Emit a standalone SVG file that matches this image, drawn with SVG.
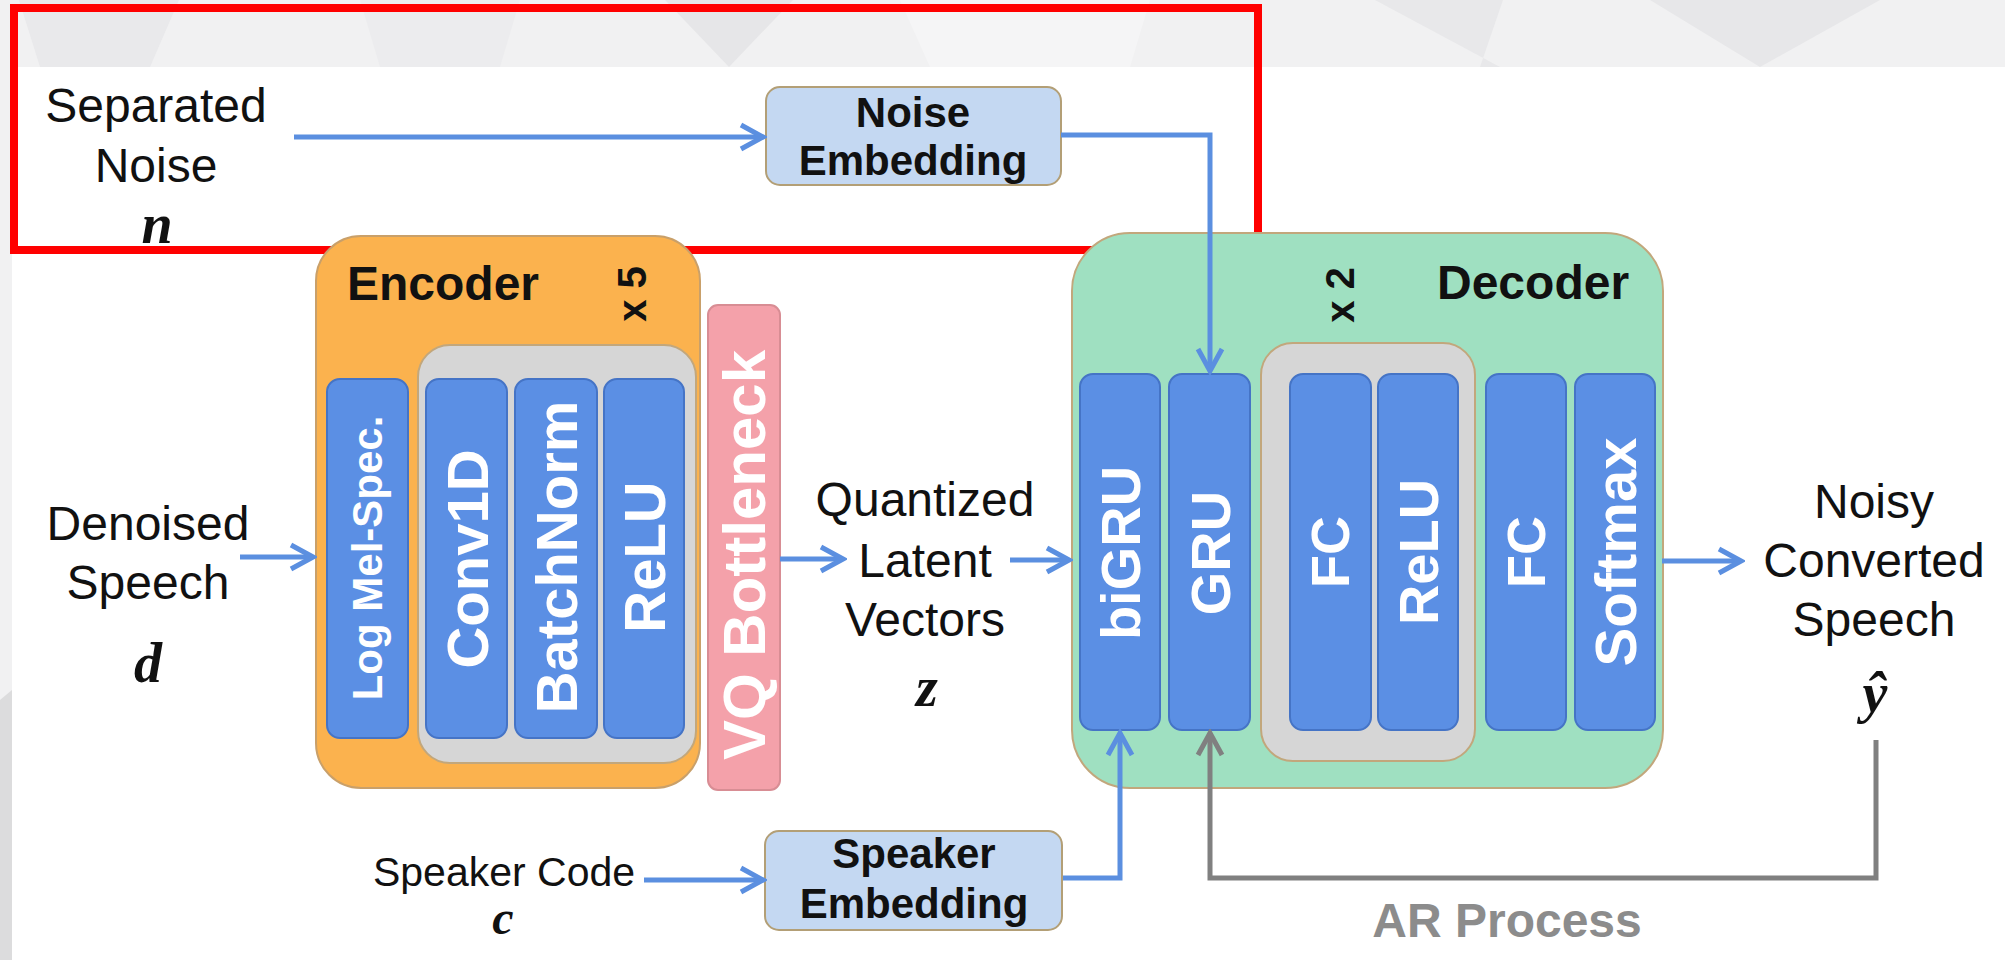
<svg xmlns="http://www.w3.org/2000/svg" width="2005" height="960" viewBox="0 0 2005 960">
<defs>
<style>
.lbl{font-family:"Liberation Sans",Arial,sans-serif;font-size:48px;fill:#111;text-anchor:middle}
.math{font-family:"Liberation Serif","DejaVu Serif",serif;font-weight:bold;font-style:italic;font-size:56px;fill:#111;text-anchor:middle}
.blk{fill:#5b8fe4;stroke:#4574c6;stroke-width:2}
.blkt{font-family:"Liberation Sans",Arial,sans-serif;font-weight:bold;fill:#fff;text-anchor:middle}
.emb{fill:#c4d8f2;stroke:#b39f76;stroke-width:2}
.embt{font-family:"Liberation Sans",Arial,sans-serif;font-weight:bold;font-size:42px;fill:#111;text-anchor:middle}
.ttl{font-family:"Liberation Sans",Arial,sans-serif;font-weight:bold;font-size:48px;fill:#111}
.rep{font-family:"Liberation Sans",Arial,sans-serif;font-weight:bold;font-size:40px;fill:#111;text-anchor:middle}
.conn{fill:none;stroke:#5b8fe0;stroke-width:5}
.gconn{fill:none;stroke:#808080;stroke-width:5}
.inner{fill:#d6d6d6;stroke:#c2a77c;stroke-width:2}
</style>
<marker id="ab" viewBox="-26 -15 30 30" refX="0" refY="0" markerWidth="30" markerHeight="30" markerUnits="userSpaceOnUse" orient="auto">
<path d="M-22,-12 L0,0 L-22,12" fill="none" stroke="#5b8fe0" stroke-width="5"/>
</marker>
<marker id="ag" viewBox="-26 -15 30 30" refX="0" refY="0" markerWidth="30" markerHeight="30" markerUnits="userSpaceOnUse" orient="auto">
<path d="M-22,-12 L0,0 L-22,12" fill="none" stroke="#808080" stroke-width="5"/>
</marker>
</defs>

<g id="background">
<rect x="0" y="0" width="2005" height="960" fill="#f1f1f2"/>
<polygon points="19,0 179,0 150,67 40,67" fill="#e9e9eb"/>
<polygon points="360,0 520,0 500,67 380,67" fill="#ececee"/>
<polygon points="665,0 793,0 729,67" fill="#e6e6e8"/>
<polygon points="900,0 1150,0 1130,67 930,67" fill="#f5f5f6"/>
<polygon points="1375,0 1503,0 1480,67 1500,67" fill="#e8e8ea"/>
<polygon points="1650,0 1880,0 1760,67" fill="#e7e7e9"/>
<polygon points="0,700 12,690 12,960 0,960" fill="#dcdcdd"/>
<rect x="12" y="67" width="1993" height="893" fill="#ffffff"/>
</g>

<g id="highlight">
<rect x="14" y="8" width="1244" height="242" fill="none" stroke="#ff0000" stroke-width="8"/>
</g>

<g id="separated-noise">
<text class="lbl" x="156" y="122">Separated</text>
<text class="lbl" x="156" y="182">Noise</text>
<text class="math" x="157" y="243">n</text>
</g>

<g id="noise-embedding">
<rect class="emb" x="766" y="87" width="295" height="98" rx="14"/>
<text class="embt" x="913" y="127">Noise</text>
<text class="embt" x="913" y="175">Embedding</text>
</g>

<g id="denoised-speech">
<text class="lbl" x="148" y="540">Denoised</text>
<text class="lbl" x="148" y="599">Speech</text>
<text class="math" x="148" y="682">d</text>
</g>

<g id="encoder">
<rect x="316" y="236" width="384" height="552" rx="45" fill="#fbb24e" stroke="#c9a06a" stroke-width="2"/>
<text class="ttl" x="347" y="300">Encoder</text>
<text class="rep" transform="translate(646,294) rotate(-90)">x 5</text>
<rect class="inner" x="418" y="345" width="278" height="418" rx="32"/>
<g id="log-mel-spec">
<rect class="blk" x="327" y="379" width="81" height="359" rx="13"/>
<text class="blkt" font-size="42" transform="translate(382,558) rotate(-90)">Log Mel-Spec.</text>
</g>
<g id="enc-conv1d">
<rect class="blk" x="426" y="379" width="81" height="359" rx="13"/>
<text class="blkt" font-size="58" transform="translate(488,559) rotate(-90)">Conv1D</text>
</g>
<g id="enc-batchnorm">
<rect class="blk" x="515" y="379" width="82" height="359" rx="13"/>
<text class="blkt" font-size="58" transform="translate(577,557) rotate(-90)">BatchNorm</text>
</g>
<g id="enc-relu">
<rect class="blk" x="604" y="379" width="80" height="359" rx="13"/>
<text class="blkt" font-size="58" transform="translate(665,557) rotate(-90)">ReLU</text>
</g>
</g>

<g id="vq-bottleneck">
<rect x="708" y="305" width="72" height="485" rx="10" fill="#f4a1aa" stroke="#d88d94" stroke-width="2"/>
<text class="blkt" font-size="60" transform="translate(765,555) rotate(-90)">VQ Bottleneck</text>
</g>

<g id="latent">
<text class="lbl" x="925" y="516">Quantized</text>
<text class="lbl" x="925" y="577">Latent</text>
<text class="lbl" x="925" y="636">Vectors</text>
<text class="math" x="927" y="706">z</text>
</g>

<g id="decoder">
<rect x="1072" y="233" width="591" height="555" rx="58" fill="#9fe0c1" stroke="#c2a77c" stroke-width="2"/>
<text class="ttl" x="1437" y="299">Decoder</text>
<text class="rep" transform="translate(1354,295) rotate(-90)">x 2</text>
<rect class="inner" x="1261" y="343" width="214" height="418" rx="32"/>
<g id="dec-bigru">
<rect class="blk" x="1080" y="374" width="80" height="356" rx="13"/>
<text class="blkt" font-size="56" transform="translate(1140,553) rotate(-90)">biGRU</text>
</g>
<g id="dec-gru">
<rect class="blk" x="1169" y="374" width="81" height="356" rx="13"/>
<text class="blkt" font-size="56" transform="translate(1230,553) rotate(-90)">GRU</text>
</g>
<g id="dec-fc1">
<rect class="blk" x="1290" y="374" width="81" height="356" rx="13"/>
<text class="blkt" font-size="54" transform="translate(1349,552) rotate(-90)">FC</text>
</g>
<g id="dec-relu">
<rect class="blk" x="1378" y="374" width="80" height="356" rx="13"/>
<text class="blkt" font-size="56" transform="translate(1438,552) rotate(-90)">ReLU</text>
</g>
<g id="dec-fc2">
<rect class="blk" x="1486" y="374" width="80" height="356" rx="13"/>
<text class="blkt" font-size="54" transform="translate(1545,552) rotate(-90)">FC</text>
</g>
<g id="dec-softmax">
<rect class="blk" x="1575" y="374" width="80" height="356" rx="13"/>
<text class="blkt" font-size="58" transform="translate(1636,552) rotate(-90)">Softmax</text>
</g>
</g>

<g id="output">
<text class="lbl" x="1874" y="518">Noisy</text>
<text class="lbl" x="1874" y="577">Converted</text>
<text class="lbl" x="1874" y="636">Speech</text>
<text class="math" x="1875" y="712">ŷ</text>
</g>

<g id="speaker-code">
<text class="lbl" style="font-size:41px" x="504" y="886">Speaker Code</text>
<text class="math" style="font-size:48px" x="503" y="934">c</text>
</g>

<g id="speaker-embedding">
<rect class="emb" x="765" y="831" width="297" height="99" rx="14"/>
<text class="embt" x="914" y="868">Speaker</text>
<text class="embt" x="914" y="918">Embedding</text>
</g>

<g id="ar-process">
<text class="ttl" x="1507" y="937" style="fill:#8c8c8c;text-anchor:middle">AR Process</text>
</g>

<g id="connectors">
<line class="conn" x1="294" y1="137" x2="763" y2="137" marker-end="url(#ab)"/>
<polyline class="conn" points="1061,135 1210,135 1210,371" marker-end="url(#ab)"/>
<line class="conn" x1="240" y1="557" x2="313" y2="557" marker-end="url(#ab)"/>
<line class="conn" x1="780" y1="559" x2="843" y2="559" marker-end="url(#ab)"/>
<line class="conn" x1="1010" y1="560" x2="1069" y2="560" marker-end="url(#ab)"/>
<line class="conn" x1="1662" y1="561" x2="1741" y2="561" marker-end="url(#ab)"/>
<line class="conn" x1="644" y1="880" x2="763" y2="880" marker-end="url(#ab)"/>
<polyline class="conn" points="1063,878 1120,878 1120,733" marker-end="url(#ab)"/>
<polyline class="gconn" points="1876,740 1876,878 1210,878 1210,733" marker-end="url(#ag)"/>
</g>
</svg>
